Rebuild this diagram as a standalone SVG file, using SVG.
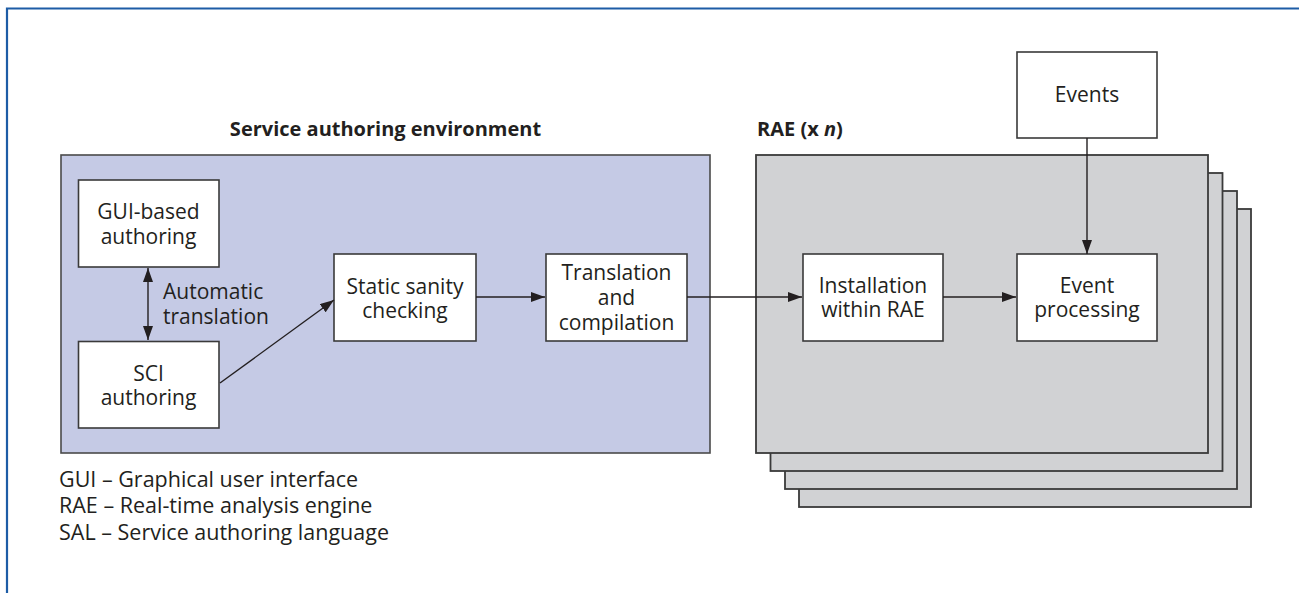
<svg xmlns="http://www.w3.org/2000/svg" width="1299" height="593" viewBox="0 0 1299 593">
<style>
text{font-family:"Open Sans","Liberation Sans",sans-serif;fill:#231f20;font-size:21px}
.lbl{text-anchor:middle}
.title{font-weight:bold;font-size:20px}
.leg{font-size:21.5px}
.box{fill:#ffffff;stroke:#3a3a3a;stroke-width:1.6}
.rae{fill:#d1d2d4;stroke:#3a3a3a;stroke-width:1.8}
.sae{fill:#c5cae5;stroke:#4a4a4a;stroke-width:1.6}
.conn{stroke:#231f20;stroke-width:1.4;fill:none}
</style>
<defs>
<marker id="ah" viewBox="0 0 14 10" refX="14" refY="5" markerWidth="14" markerHeight="10" markerUnits="userSpaceOnUse" orient="auto-start-reverse">
<path d="M0,0 L14,5 L0,10 z" fill="#231f20"/>
</marker>
</defs>
<rect width="1299" height="593" fill="#ffffff"/>
<path d="M7,593 V8.5 H1299" fill="none" stroke="#1d5ca6" stroke-width="2.2"/>

<g id="sae">
<rect class="sae" x="61" y="155" width="649" height="298"/>
<text class="title lbl" x="385.5" y="136">Service authoring environment</text>
</g>

<g id="rae">
<rect class="rae" x="799" y="209" width="452" height="298"/>
<rect class="rae" x="785" y="191" width="452" height="298"/>
<rect class="rae" x="770.5" y="173" width="452" height="298"/>
<rect class="rae" x="756" y="155" width="452" height="298"/>
<text class="title" x="757" y="136">RAE (x <tspan font-style="italic">n</tspan>)</text>
</g>

<g id="gui">
<rect class="box" x="78.5" y="180" width="140.5" height="87"/>
<text class="lbl" x="148.5" y="219">GUI-based</text>
<text class="lbl" x="148.5" y="244">authoring</text>
</g>

<g id="sci">
<rect class="box" x="78.5" y="341.5" width="140.5" height="86.5"/>
<text class="lbl" x="148.5" y="381">SCI</text>
<text class="lbl" x="148.5" y="405">authoring</text>
</g>

<g id="static">
<rect class="box" x="334" y="254" width="142" height="87"/>
<text class="lbl" x="405" y="294">Static sanity</text>
<text class="lbl" x="405" y="318">checking</text>
</g>

<g id="translation">
<rect class="box" x="546" y="254" width="141" height="87"/>
<text class="lbl" x="616.5" y="280">Translation</text>
<text class="lbl" x="616.5" y="305">and</text>
<text class="lbl" x="616.5" y="330">compilation</text>
</g>

<g id="installation">
<rect class="box" x="803" y="254" width="140" height="87"/>
<text class="lbl" x="873" y="293">Installation</text>
<text class="lbl" x="873" y="317">within RAE</text>
</g>

<g id="eventproc">
<rect class="box" x="1017" y="254" width="140" height="87"/>
<text class="lbl" x="1087" y="293">Event</text>
<text class="lbl" x="1087" y="317">processing</text>
</g>

<g id="events">
<rect class="box" x="1017" y="52" width="140" height="86"/>
<text class="lbl" x="1087" y="102">Events</text>
</g>

<g id="connectors">
<line class="conn" x1="148" y1="268" x2="148" y2="340" marker-start="url(#ah)" marker-end="url(#ah)"/>
<text x="163" y="299">Automatic</text>
<text x="163" y="324">translation</text>
<line class="conn" x1="220" y1="383" x2="334" y2="300" marker-end="url(#ah)"/>
<line class="conn" x1="476" y1="297" x2="545" y2="297" marker-end="url(#ah)"/>
<line class="conn" x1="687" y1="297" x2="802" y2="297" marker-end="url(#ah)"/>
<line class="conn" x1="943" y1="297" x2="1016" y2="297" marker-end="url(#ah)"/>
<line class="conn" x1="1087" y1="138" x2="1087" y2="254" marker-end="url(#ah)"/>
</g>

<g id="legend">
<text class="leg" x="59" y="487">GUI – Graphical user interface</text>
<text class="leg" x="59" y="513">RAE – Real-time analysis engine</text>
<text class="leg" x="59" y="540">SAL – Service authoring language</text>
</g>
</svg>
